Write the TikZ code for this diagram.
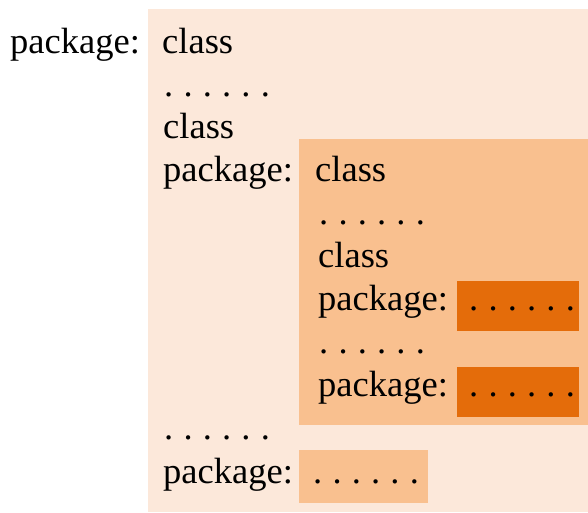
\documentclass[tikz,border=0pt]{standalone}
\usepackage{fontspec}
\setmainfont{Liberation Serif}
\definecolor{pkgA}{HTML}{FCE8DA}
\definecolor{pkgB}{HTML}{F9C08F}
\definecolor{pkgC}{HTML}{E46C0A}
\newcommand\sixdots{.\kern10.2pt.\kern10.2pt.\kern10.2pt.\kern10.2pt.\kern10.2pt.}
\begin{document}
\begin{tikzpicture}[x=1pt,y=-1pt,
  txt/.style={anchor=base west,inner sep=0pt,font=\fontsize{36.5}{40}\selectfont}]
\useasboundingbox (0,0) rectangle (588,512);
% boxes
\fill[pkgA] (148,9) rectangle (588,512);
\fill[pkgB] (299,139) rectangle (588,425);
\fill[pkgC] (457,281) rectangle (579,331);
\fill[pkgC] (457,367) rectangle (579,417);
\fill[pkgB] (299,450) rectangle (428,503);
% texts
\node[txt] (p0) at (10,53) {package:};
\node[txt] (c1) at (162,53) {class};
\node[txt] (d1) at (164,96) {\sixdots};
\node[txt] (c2) at (163,138) {class};
\node[txt] (p1) at (163,181) {package:};
\node[txt] (c3) at (315,181) {class};
\node[txt] (d2) at (319,224) {\sixdots};
\node[txt] (c4) at (318,267) {class};
\node[txt] (p2) at (318,310) {package:};
\node[txt] (d3) at (469,310) {\sixdots};
\node[txt] (d4) at (319,353) {\sixdots};
\node[txt] (p3) at (318,396) {package:};
\node[txt] (d5) at (469,396) {\sixdots};
\node[txt] (d6) at (164,439) {\sixdots};
\node[txt] (p4) at (163,483) {package:};
\node[txt] (d7) at (313,483) {\sixdots};
\end{tikzpicture}
\end{document}
